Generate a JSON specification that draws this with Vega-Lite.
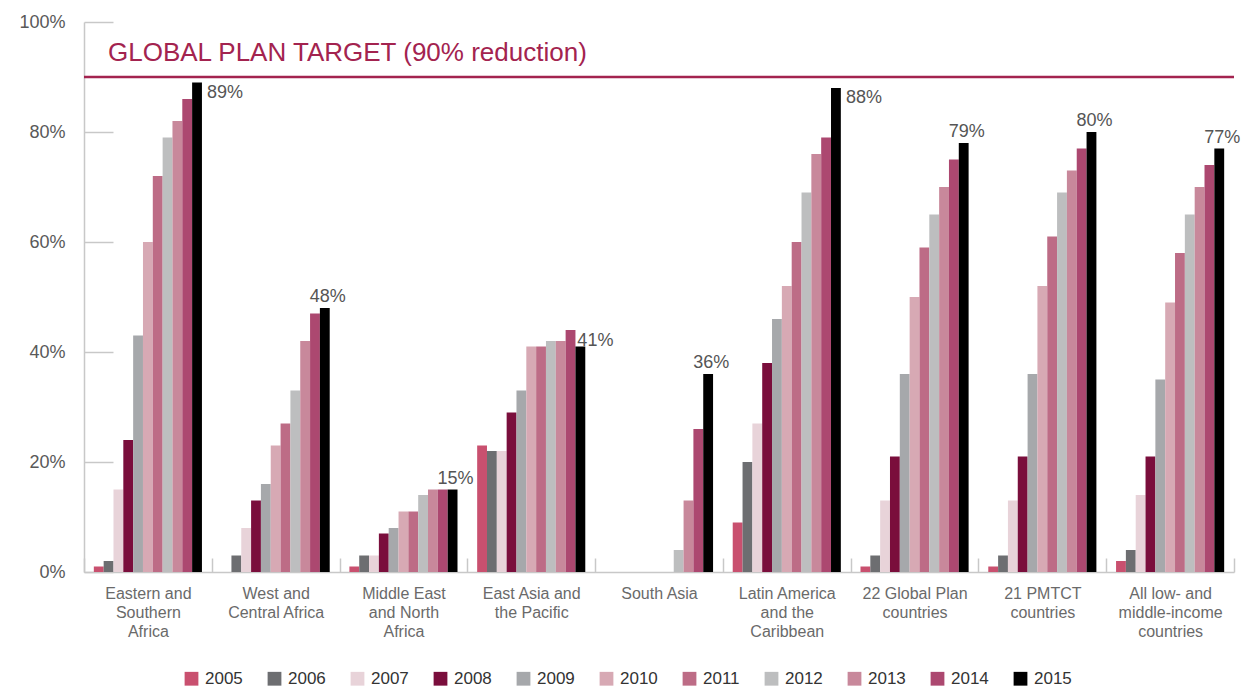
{
  "$schema": "https://vega.github.io/schema/vega-lite/v6.json",
  "width": 1150,
  "height": 550,
  "autosize": {"type": "none"},
  "padding": {"left": 84, "top": 22, "right": 7, "bottom": 116},
  "background": "white",
  "config": {
    "view": {"stroke": null},
    "font": "Liberation Sans",
    "text": {"font": "Liberation Sans"}
  },
  "datasets": {
    "bars": [
      {"group": "Eastern and Southern Africa", "year": "2005", "value": 1},
      {"group": "Eastern and Southern Africa", "year": "2006", "value": 2},
      {"group": "Eastern and Southern Africa", "year": "2007", "value": 15},
      {"group": "Eastern and Southern Africa", "year": "2008", "value": 24},
      {"group": "Eastern and Southern Africa", "year": "2009", "value": 43},
      {"group": "Eastern and Southern Africa", "year": "2010", "value": 60},
      {"group": "Eastern and Southern Africa", "year": "2011", "value": 72},
      {"group": "Eastern and Southern Africa", "year": "2012", "value": 79},
      {"group": "Eastern and Southern Africa", "year": "2013", "value": 82},
      {"group": "Eastern and Southern Africa", "year": "2014", "value": 86},
      {"group": "Eastern and Southern Africa", "year": "2015", "value": 89, "label": "89%", "pos": "right"},
      {"group": "West and Central Africa", "year": "2005", "value": 0},
      {"group": "West and Central Africa", "year": "2006", "value": 3},
      {"group": "West and Central Africa", "year": "2007", "value": 8},
      {"group": "West and Central Africa", "year": "2008", "value": 13},
      {"group": "West and Central Africa", "year": "2009", "value": 16},
      {"group": "West and Central Africa", "year": "2010", "value": 23},
      {"group": "West and Central Africa", "year": "2011", "value": 27},
      {"group": "West and Central Africa", "year": "2012", "value": 33},
      {"group": "West and Central Africa", "year": "2013", "value": 42},
      {"group": "West and Central Africa", "year": "2014", "value": 47},
      {"group": "West and Central Africa", "year": "2015", "value": 48, "label": "48%", "pos": "above"},
      {"group": "Middle East and North Africa", "year": "2005", "value": 1},
      {"group": "Middle East and North Africa", "year": "2006", "value": 3},
      {"group": "Middle East and North Africa", "year": "2007", "value": 3},
      {"group": "Middle East and North Africa", "year": "2008", "value": 7},
      {"group": "Middle East and North Africa", "year": "2009", "value": 8},
      {"group": "Middle East and North Africa", "year": "2010", "value": 11},
      {"group": "Middle East and North Africa", "year": "2011", "value": 11},
      {"group": "Middle East and North Africa", "year": "2012", "value": 14},
      {"group": "Middle East and North Africa", "year": "2013", "value": 15},
      {"group": "Middle East and North Africa", "year": "2014", "value": 15},
      {"group": "Middle East and North Africa", "year": "2015", "value": 15, "label": "15%", "pos": "above"},
      {"group": "East Asia and the Pacific", "year": "2005", "value": 23},
      {"group": "East Asia and the Pacific", "year": "2006", "value": 22},
      {"group": "East Asia and the Pacific", "year": "2007", "value": 22},
      {"group": "East Asia and the Pacific", "year": "2008", "value": 29},
      {"group": "East Asia and the Pacific", "year": "2009", "value": 33},
      {"group": "East Asia and the Pacific", "year": "2010", "value": 41},
      {"group": "East Asia and the Pacific", "year": "2011", "value": 41},
      {"group": "East Asia and the Pacific", "year": "2012", "value": 42},
      {"group": "East Asia and the Pacific", "year": "2013", "value": 42},
      {"group": "East Asia and the Pacific", "year": "2014", "value": 44},
      {"group": "East Asia and the Pacific", "year": "2015", "value": 41, "label": "41%", "pos": "topleft"},
      {"group": "South Asia", "year": "2005", "value": 0},
      {"group": "South Asia", "year": "2006", "value": 0},
      {"group": "South Asia", "year": "2007", "value": 0},
      {"group": "South Asia", "year": "2008", "value": 0},
      {"group": "South Asia", "year": "2009", "value": 0},
      {"group": "South Asia", "year": "2010", "value": 0},
      {"group": "South Asia", "year": "2011", "value": 0},
      {"group": "South Asia", "year": "2012", "value": 4},
      {"group": "South Asia", "year": "2013", "value": 13},
      {"group": "South Asia", "year": "2014", "value": 26},
      {"group": "South Asia", "year": "2015", "value": 36, "label": "36%", "pos": "above"},
      {"group": "Latin America and the Caribbean", "year": "2005", "value": 9},
      {"group": "Latin America and the Caribbean", "year": "2006", "value": 20},
      {"group": "Latin America and the Caribbean", "year": "2007", "value": 27},
      {"group": "Latin America and the Caribbean", "year": "2008", "value": 38},
      {"group": "Latin America and the Caribbean", "year": "2009", "value": 46},
      {"group": "Latin America and the Caribbean", "year": "2010", "value": 52},
      {"group": "Latin America and the Caribbean", "year": "2011", "value": 60},
      {"group": "Latin America and the Caribbean", "year": "2012", "value": 69},
      {"group": "Latin America and the Caribbean", "year": "2013", "value": 76},
      {"group": "Latin America and the Caribbean", "year": "2014", "value": 79},
      {"group": "Latin America and the Caribbean", "year": "2015", "value": 88, "label": "88%", "pos": "right"},
      {"group": "22 Global Plan countries", "year": "2005", "value": 1},
      {"group": "22 Global Plan countries", "year": "2006", "value": 3},
      {"group": "22 Global Plan countries", "year": "2007", "value": 13},
      {"group": "22 Global Plan countries", "year": "2008", "value": 21},
      {"group": "22 Global Plan countries", "year": "2009", "value": 36},
      {"group": "22 Global Plan countries", "year": "2010", "value": 50},
      {"group": "22 Global Plan countries", "year": "2011", "value": 59},
      {"group": "22 Global Plan countries", "year": "2012", "value": 65},
      {"group": "22 Global Plan countries", "year": "2013", "value": 70},
      {"group": "22 Global Plan countries", "year": "2014", "value": 75},
      {"group": "22 Global Plan countries", "year": "2015", "value": 78, "label": "79%", "pos": "above"},
      {"group": "21 PMTCT countries", "year": "2005", "value": 1},
      {"group": "21 PMTCT countries", "year": "2006", "value": 3},
      {"group": "21 PMTCT countries", "year": "2007", "value": 13},
      {"group": "21 PMTCT countries", "year": "2008", "value": 21},
      {"group": "21 PMTCT countries", "year": "2009", "value": 36},
      {"group": "21 PMTCT countries", "year": "2010", "value": 52},
      {"group": "21 PMTCT countries", "year": "2011", "value": 61},
      {"group": "21 PMTCT countries", "year": "2012", "value": 69},
      {"group": "21 PMTCT countries", "year": "2013", "value": 73},
      {"group": "21 PMTCT countries", "year": "2014", "value": 77},
      {"group": "21 PMTCT countries", "year": "2015", "value": 80, "label": "80%", "pos": "above"},
      {"group": "All low- and middle-income countries", "year": "2005", "value": 2},
      {"group": "All low- and middle-income countries", "year": "2006", "value": 4},
      {"group": "All low- and middle-income countries", "year": "2007", "value": 14},
      {"group": "All low- and middle-income countries", "year": "2008", "value": 21},
      {"group": "All low- and middle-income countries", "year": "2009", "value": 35},
      {"group": "All low- and middle-income countries", "year": "2010", "value": 49},
      {"group": "All low- and middle-income countries", "year": "2011", "value": 58},
      {"group": "All low- and middle-income countries", "year": "2012", "value": 65},
      {"group": "All low- and middle-income countries", "year": "2013", "value": 70},
      {"group": "All low- and middle-income countries", "year": "2014", "value": 74},
      {"group": "All low- and middle-income countries", "year": "2015", "value": 77, "label": "77%", "pos": "above"}
    ],
    "target": [
      {"group": "Eastern and Southern Africa", "target": 90, "text": "GLOBAL PLAN TARGET (90% reduction)"}
    ]
  },
  "encoding": {
    "x": {
      "field": "group",
      "type": "nominal",
      "sort": ["Eastern and Southern Africa", "West and Central Africa", "Middle East and North Africa", "East Asia and the Pacific", "South Asia", "Latin America and the Caribbean", "22 Global Plan countries", "21 PMTCT countries", "All low- and middle-income countries"],
      "scale": {"paddingInner": 0, "paddingOuter": 0},
      "axis": {
        "title": null,
        "labelAngle": 0,
        "tickBand": "extent",
        "domainColor": "#c8c8c8",
        "domainWidth": 1.5,
        "tickColor": "#c8c8c8",
        "tickWidth": 1.5,
        "tickSize": -14,
        "labelPadding": 27,
        "labelFont": "Liberation Sans",
        "labelFontSize": 16,
        "labelColor": "#6a6a6a",
        "labelLineHeight": 19,
        "labelBaseline": "top",
        "labelExpr": "({'Eastern and Southern Africa': ['Eastern and', 'Southern', 'Africa'], 'West and Central Africa': ['West and', 'Central Africa'], 'Middle East and North Africa': ['Middle East', 'and North', 'Africa'], 'East Asia and the Pacific': ['East Asia and', 'the Pacific'], 'South Asia': ['South Asia'], 'Latin America and the Caribbean': ['Latin America', 'and the', 'Caribbean'], '22 Global Plan countries': ['22 Global Plan', 'countries'], '21 PMTCT countries': ['21 PMTCT', 'countries'], 'All low- and middle-income countries': ['All low- and', 'middle-income', 'countries']})[datum.value]"
      }
    }
  },
  "layer": [
    {
      "data": {"name": "bars"},
      "mark": {"type": "bar"},
      "encoding": {
        "xOffset": {"field": "year", "type": "nominal", "scale": {"paddingInner": 0, "paddingOuter": 1.375}},
        "y": {
          "field": "value",
          "type": "quantitative",
          "scale": {"domain": [0, 100], "nice": false},
          "axis": {
            "title": null,
            "values": [0, 20, 40, 60, 80, 100],
            "labelExpr": "datum.value + '%'",
            "grid": false,
            "domainColor": "#c8c8c8",
            "domainWidth": 1.5,
            "tickColor": "#c8c8c8",
            "tickWidth": 1.5,
            "tickSize": -29,
            "labelPadding": 48,
            "labelFont": "Liberation Sans",
            "labelFontSize": 18,
            "labelColor": "#595959"
          }
        },
        "color": {
          "field": "year",
          "type": "nominal",
          "scale": {
            "domain": ["2005", "2006", "2007", "2008", "2009", "2010", "2011", "2012", "2013", "2014", "2015"],
            "range": ["#c9506f", "#6d6e71", "#e8d3d9", "#7a0e3c", "#a6a8ab", "#d7a9b4", "#bd6c86", "#bdbebf", "#c8889b", "#ac4870", "#000000"]
          },
          "legend": {
            "title": null,
            "orient": "none",
            "direction": "horizontal",
            "legendX": 99,
            "legendY": 648,
            "padding": 0,
            "symbolType": "square",
            "symbolSize": 190,
            "symbolStrokeWidth": 0,
            "labelFont": "Liberation Sans",
            "labelFontSize": 17,
            "labelColor": "#333333",
            "labelOffset": 5,
            "columnPadding": 23
          }
        }
      }
    },
    {
      "data": {"name": "bars"},
      "transform": [{"filter": "datum.pos == 'above'"}],
      "mark": {"type": "text", "align": "center", "baseline": "alphabetic", "dx": 3, "dy": -6, "font": "Liberation Sans", "fontSize": 18, "color": "#555555"},
      "encoding": {
        "xOffset": {"field": "year", "type": "nominal"},
        "y": {"field": "value", "type": "quantitative"},
        "text": {"field": "label"}
      }
    },
    {
      "data": {"name": "bars"},
      "transform": [{"filter": "datum.pos == 'right'"}],
      "mark": {"type": "text", "align": "left", "baseline": "top", "dx": 10, "dy": 1, "font": "Liberation Sans", "fontSize": 18, "color": "#555555"},
      "encoding": {
        "xOffset": {"field": "year", "type": "nominal"},
        "y": {"field": "value", "type": "quantitative"},
        "text": {"field": "label"}
      }
    },
    {
      "data": {"name": "bars"},
      "transform": [{"filter": "datum.pos == 'topleft'"}],
      "mark": {"type": "text", "align": "left", "baseline": "alphabetic", "dx": -3, "dy": -1, "font": "Liberation Sans", "fontSize": 18, "color": "#555555"},
      "encoding": {
        "xOffset": {"field": "year", "type": "nominal"},
        "y": {"field": "value", "type": "quantitative"},
        "text": {"field": "label"}
      }
    },
    {
      "data": {"name": "target"},
      "mark": {"type": "rule", "color": "#a3234f", "strokeWidth": 2.5},
      "encoding": {
        "x": null,
        "y": {"field": "target", "type": "quantitative"}
      }
    },
    {
      "data": {"name": "target"},
      "mark": {"type": "text", "align": "left", "baseline": "alphabetic", "dx": 24, "dy": -16, "font": "Liberation Sans", "fontSize": 26, "color": "#a3234f"},
      "encoding": {
        "x": {"field": "group", "type": "nominal", "bandPosition": 0},
        "y": {"field": "target", "type": "quantitative"},
        "text": {"field": "text"}
      }
    }
  ]
}
